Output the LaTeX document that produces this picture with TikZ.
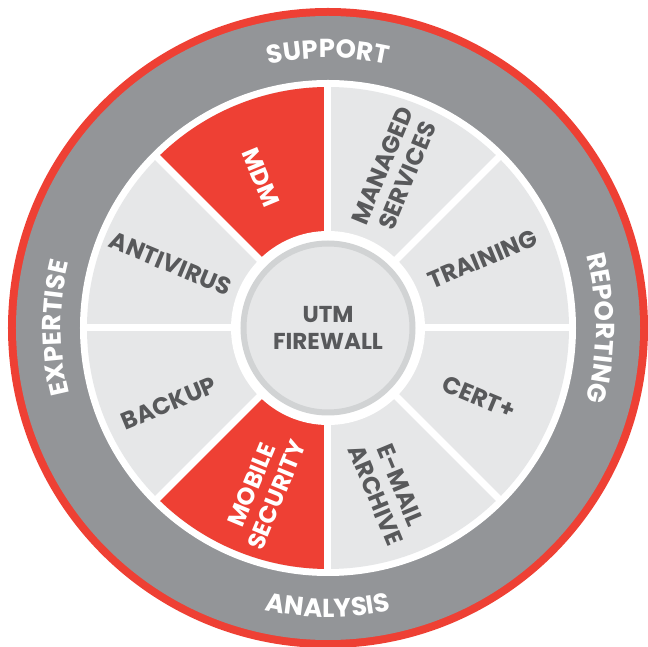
\documentclass[tikz,border=0pt]{standalone}
\usepackage{fontspec}
\setmainfont{Poppins}
\usetikzlibrary{decorations.text}
\definecolor{wheelred}{HTML}{EE4034}
\definecolor{ringgray}{HTML}{939598}
\definecolor{segmentgray}{HTML}{E6E7E8}
\definecolor{coregray}{HTML}{D1D3D4}
\definecolor{labelgray}{HTML}{58595B}
\newcommand{\ringfont}{\fontsize{26}{30}\selectfont\bfseries}
\newcommand{\segfont}{\fontsize{24}{27}\selectfont\bfseries}

\begin{document}
\begin{tikzpicture}[x=1pt, y=1pt,
  segment label/.style={text=labelgray, font=\segfont, align=center, inner sep=0pt},
  ring label/.style={decorate, decoration={text along path, text align=center, text color=white, text={|\ringfont|#1}}}]
\useasboundingbox (-328,-319) rectangle (320,328);
\fill[wheelred] (0,0) circle (320);
\fill[ringgray] (0,0) circle (312);
\fill[white] (0,0) circle (248);
\fill[segmentgray] (0,0) circle (241);
\foreach \a in {90,225}
  \fill[wheelred] (0,0) -- (\a:241) arc[start angle=\a, end angle=\a+45, radius=241] -- cycle;
\foreach \a in {0,45,...,315}
  \draw[white, line width=7] (0,0) -- (\a:244);
\fill[white] (0,0) circle (97);
\node[circle, fill=segmentgray, draw=coregray, line width=6, minimum size=169, segment label, font=\fontsize{23}{27}\selectfont\bfseries] (utm) at (0,0) {UTM\\FIREWALL};
\node[segment label, rotate=22.5] (training) at (24:169) {TRAINING};
\node[segment label, rotate=67.5] (managed) at (67:171) {MANAGED\\SERVICES};
\node[segment label, rotate=-67.5, text=white] (mdm) at (114:165) {MDM};
\node[segment label, rotate=-22.5] (antivirus) at (157.8:170) {ANTIVIRUS};
\node[segment label, rotate=22.5] (backup) at (205.3:176) {BACKUP};
\node[segment label, rotate=67.5, text=white] (mobile) at (248.4:174) {MOBILE\\SECURITY};
\node[segment label, rotate=-67.5] (email) at (290.3:173) {E-MAIL\\ARCHIVE};
\node[segment label, rotate=-22.5] (cert) at (335.5:166) {CERT+};
\path[ring label=SUPPORT] (150:270) arc[start angle=150, end angle=30, radius=270];
\path[ring label=REPORTING] (60:268) arc[start angle=60, end angle=-60, radius=268];
\path[ring label=EXPERTISE] (240:267) arc[start angle=240, end angle=120, radius=267];
\path[ring label=ANALYSIS] (210:289) arc[start angle=210, end angle=330, radius=289];
\end{tikzpicture}
\end{document}
